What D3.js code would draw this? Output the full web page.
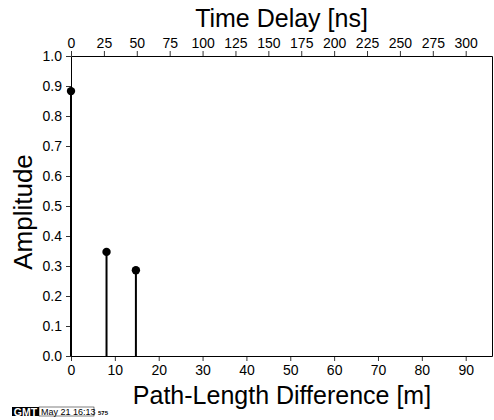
<!DOCTYPE html>
<html>
<head>
<meta charset="utf-8">
<script src="https://cdn.jsdelivr.net/npm/d3@7"></script>
<style>
  body { margin: 0; background: #fff; }
  svg { display: block; font-family: "Liberation Sans", Arial, sans-serif; }
</style>
</head>
<body>
<div id="chart"></div>
<script>
// path-length difference [m] and amplitude of each echo
const pathDiff = [0, 8.1, 14.8];
const amplitude = [0.883, 0.347, 0.286];
const xTicks = [0, 10, 20, 30, 40, 50, 60, 70, 80, 90];
const nsTicks = [0, 25, 50, 75, 100, 125, 150, 175, 200, 225, 250, 275, 300];
const yTicks = [0, 0.1, 0.2, 0.3, 0.4, 0.5, 0.6, 0.7, 0.8, 0.9, 1.0];

const W = 494, H = 420;
const margin = { top: 56, right: 2, bottom: 64, left: 71 };
const width = W - margin.left - margin.right;
const height = H - margin.top - margin.bottom;

const svg = d3.select("#chart").append("svg")
    .attr("width", W)
    .attr("height", H);

const g = svg.append("g")
    .attr("transform", `translate(${margin.left}, ${margin.top})`);

const x = d3.scaleLinear().domain([0, 96]).range([0, width]);
const xNs = d3.scaleLinear().domain([0, 320]).range([0, width]);
const y = d3.scaleLinear().domain([0, 1]).range([height, 0]);

function styleAxis(sel) {
    sel.select(".domain").attr("stroke", "#000").attr("stroke-width", 1);
    sel.selectAll(".tick line").attr("stroke", "#000").attr("stroke-width", 0.8);
    sel.selectAll(".tick text")
        .attr("fill", "#000")
        .style("font-size", "14px")
        .style("font-family", "'Liberation Sans', Arial, sans-serif");
}

g.append("g")
    .attr("transform", `translate(0, ${height})`)
    .call(d3.axisBottom(x).tickValues(xTicks).tickSize(5).tickSizeOuter(0).tickPadding(4))
    .call(styleAxis);

g.append("g")
    .call(d3.axisTop(xNs).tickValues(nsTicks).tickSize(5).tickSizeOuter(0).tickPadding(3))
    .call(styleAxis);

g.append("g")
    .call(d3.axisLeft(y).tickValues(yTicks).tickFormat(d3.format(".1f")).tickSize(5).tickSizeOuter(0).tickPadding(4))
    .call(styleAxis);

g.append("g")
    .attr("transform", `translate(${width}, 0)`)
    .call(d3.axisRight(y).tickValues([]).tickSizeOuter(0))
    .call(styleAxis);

const data = pathDiff.map((d, i) => ({ x: d, a: amplitude[i] }));

g.selectAll(".stem")
    .data(data)
    .enter().append("line")
    .attr("class", "stem")
    .attr("x1", d => x(d.x))
    .attr("x2", d => x(d.x))
    .attr("y1", y(0))
    .attr("y2", d => y(d.a))
    .attr("stroke", "#000")
    .attr("stroke-width", 2);

g.selectAll(".dot")
    .data(data)
    .enter().append("circle")
    .attr("class", "dot")
    .attr("cx", d => x(d.x))
    .attr("cy", d => y(d.a))
    .attr("r", 4.2)
    .attr("fill", "#000");

svg.append("text")
    .attr("x", margin.left + width / 2)
    .attr("y", 26.5)
    .attr("text-anchor", "middle")
    .style("font-size", "25px")
    .text("Time Delay [ns]");

svg.append("text")
    .attr("x", 282)
    .attr("y", 404)
    .attr("text-anchor", "middle")
    .style("font-size", "25px")
    .text("Path-Length Difference [m]");

svg.append("text")
    .attr("transform", `translate(32, 212) rotate(-90)`)
    .attr("text-anchor", "middle")
    .style("font-size", "26px")
    .text("Amplitude");

// GMT time stamp
const stamp = svg.append("g").attr("transform", "translate(12, 407)");
stamp.append("rect")
    .attr("x", 0).attr("y", 0).attr("width", 27).attr("height", 9)
    .attr("fill", "#000");
stamp.append("text")
    .attr("x", 13.5).attr("y", 8.5)
    .attr("text-anchor", "middle")
    .attr("fill", "#fff")
    .style("font-size", "10.5px")
    .style("font-weight", "bold")
    .text("GMT");
stamp.append("rect")
    .attr("x", 27).attr("y", 0).attr("width", 55).attr("height", 9)
    .attr("fill", "#fff").attr("stroke", "#000").attr("stroke-width", 0.5);
stamp.append("text")
    .attr("x", 29).attr("y", 8)
    .style("font-size", "9px")
    .text("May 21 16:13");
stamp.append("text")
    .attr("x", 86).attr("y", 7.5)
    .style("font-size", "6px")
    .style("font-weight", "bold")
    .text("575");
</script>
</body>
</html>
